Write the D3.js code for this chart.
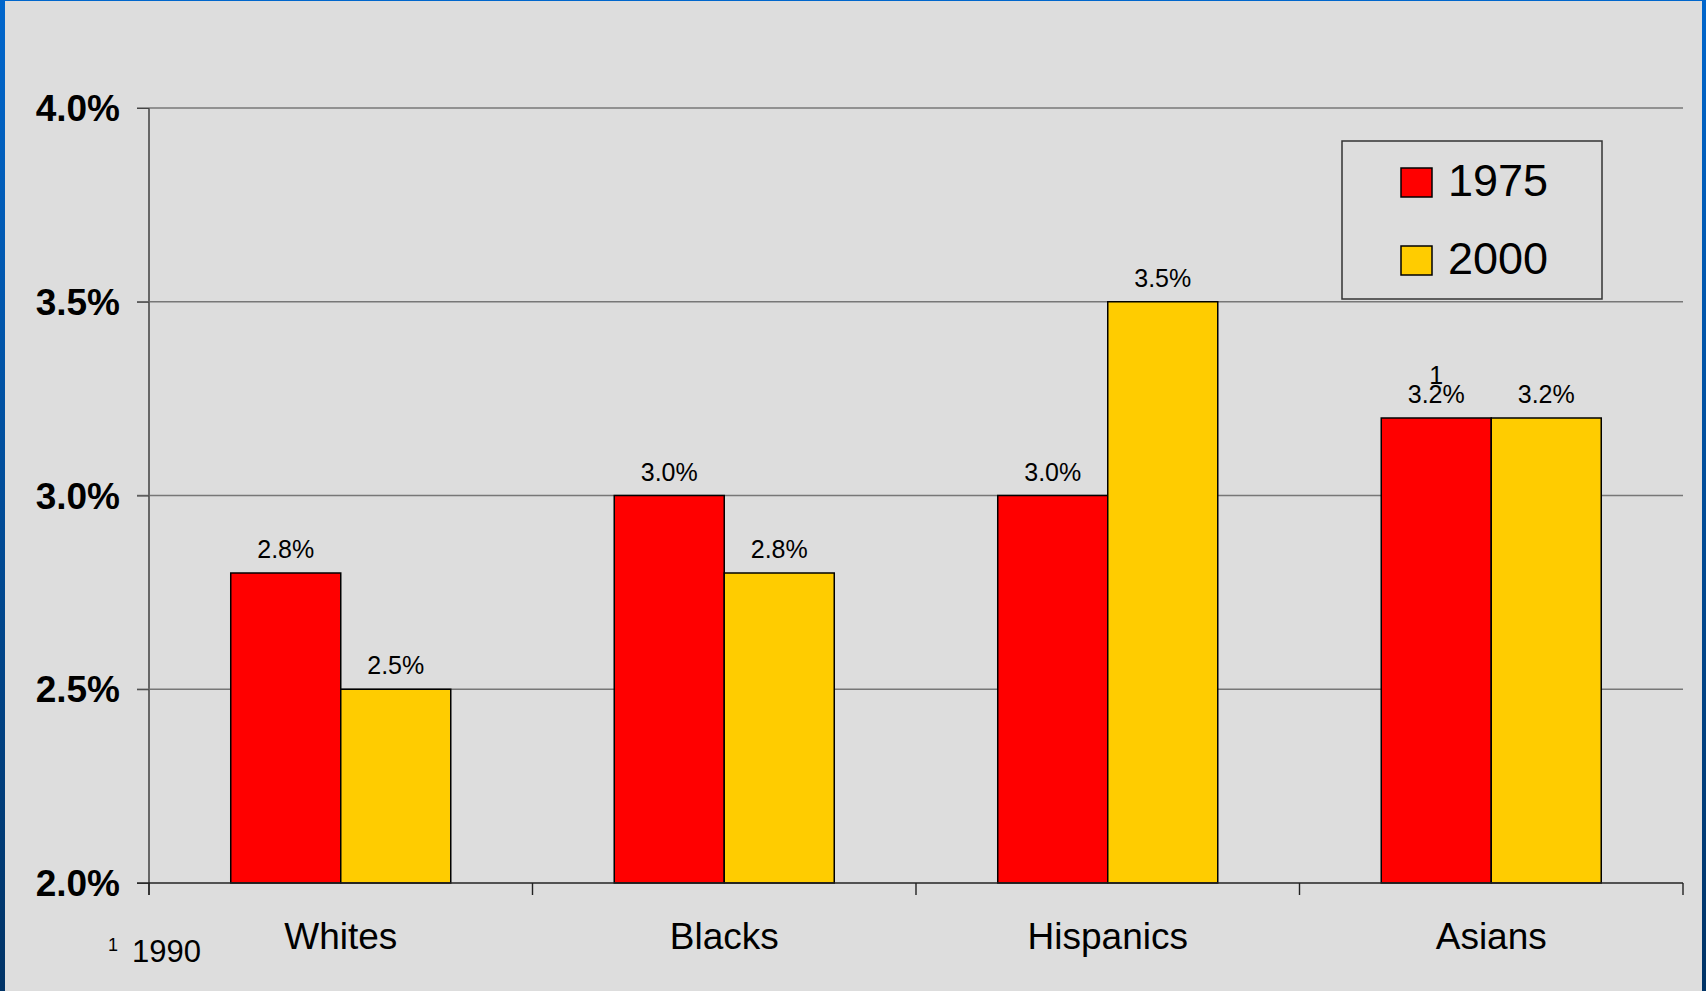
<!DOCTYPE html>
<html><head><meta charset="utf-8">
<script src="https://cdn.jsdelivr.net/npm/d3@7"></script>
<style>html,body{margin:0;padding:0;background:#dddddd;overflow:hidden}</style>
</head><body>
<svg id="c" width="1706" height="991"></svg>
<script>
const categories = ["Whites", "Blacks", "Hispanics", "Asians"];
const seriesNames = ["1975", "2000"];
const values1975 = [2.8, 3.0, 3.0, 3.2];
const values2000 = [2.5, 2.8, 3.5, 3.2];
const yTicks = [2.0, 2.5, 3.0, 3.5, 4.0];
const yTickLabels = ["2.0%", "2.5%", "3.0%", "3.5%", "4.0%"];
const colors = ["#ff0000", "#ffcc00"];
const footnoteCategory = "Asians";
const footnoteMark = "1";
const footnoteText = "1990";

const FONT = "'Liberation Sans', Arial, sans-serif";
const svg = d3.select("#c");

// frame
const defs = svg.append("defs");
const g1 = defs.append("linearGradient").attr("id","bg").attr("x1",0).attr("y1",0).attr("x2",0).attr("y2",1);
g1.append("stop").attr("offset","0%").attr("stop-color","#0066cc");
g1.append("stop").attr("offset","100%").attr("stop-color","#003366");
svg.append("rect").attr("width",1706).attr("height",991).attr("fill","url(#bg)");
svg.append("rect").attr("x",5).attr("y",1).attr("width",1697).attr("height",990).attr("fill","#dddddd");

const L = 149, R = 1683, T = 108, B = 883;
const y = d3.scaleLinear().domain([2.0, 4.0]).range([B, T]);
const x0 = d3.scaleBand().domain(categories).range([L, R]).paddingInner(0.4263).paddingOuter(0.21315);
const x1 = d3.scaleBand().domain(seriesNames).range([0, x0.bandwidth()]);

// gridlines
svg.append("g").selectAll("line").data(yTicks.slice(1)).join("line")
  .attr("x1", L - 12).attr("x2", R).attr("y1", d => y(d)).attr("y2", d => y(d))
  .attr("stroke", "#777").attr("stroke-width", 1.6);

// y axis
const yAxis = d3.axisLeft(y).tickValues(yTicks).tickSize(12).tickPadding(17)
  .tickFormat((d,i) => yTickLabels[i]);
const ya = svg.append("g").attr("transform", `translate(${L},0)`).call(yAxis);
ya.select(".domain").attr("stroke", "#666").attr("stroke-width", 2).attr("d", `M0,${T}V${B+12}`);
ya.selectAll(".tick line").attr("stroke", "#444");
ya.selectAll(".tick text").attr("font-family", FONT).attr("font-size", 37).attr("font-weight", "bold").attr("fill", "#000").attr("dy", "0.34em");

// bars
const data = categories.map((c,i) => ({c, v: [values1975[i], values2000[i]]}));
const groups = svg.append("g").selectAll("g").data(data).join("g")
  .attr("transform", d => `translate(${x0(d.c)},0)`);
groups.selectAll("rect").data(d => d.v.map((v,j) => ({v, s: seriesNames[j], j}))).join("rect")
  .attr("x", d => x1(d.s)).attr("width", x1.bandwidth())
  .attr("y", d => y(d.v)).attr("height", d => y(2.0) - y(d.v))
  .attr("fill", d => colors[d.j]).attr("stroke", "#000").attr("stroke-width", 1.5);
groups.selectAll("text.lbl").data(d => d.v.map((v,j) => ({v, s: seriesNames[j], j}))).join("text")
  .attr("class","lbl")
  .attr("x", d => x1(d.s) + x1.bandwidth()/2).attr("y", d => y(d.v) - 15)
  .attr("text-anchor", "middle").attr("font-family", FONT).attr("font-size", 25).attr("fill", "#000")
  .text(d => d.v.toFixed(1) + "%");

// footnote mark over Asians 1975 bar
const fi = categories.indexOf(footnoteCategory);
svg.append("text")
  .attr("x", x0(footnoteCategory) + x1(seriesNames[0]) + x1.bandwidth()/2)
  .attr("y", y(values1975[fi]) - 34)
  .attr("text-anchor", "middle").attr("font-family", FONT).attr("font-size", 25).attr("fill", "#000")
  .text(footnoteMark);

// x axis
const xEdges = categories.map(c => x0(c) - x0.step()*x0.paddingOuter()).concat([R]);
svg.append("line").attr("x1", L - 12).attr("x2", R).attr("y1", B).attr("y2", B).attr("stroke", "#222").attr("stroke-width", 1.6);
svg.append("g").selectAll("line").data(xEdges).join("line")
  .attr("x1", d => d).attr("x2", d => d).attr("y1", B).attr("y2", B + 12)
  .attr("stroke", "#222").attr("stroke-width", 1.4);
svg.append("g").selectAll("text").data(categories).join("text")
  .attr("x", d => x0(d) + x0.bandwidth()/2).attr("y", 949)
  .attr("text-anchor", "middle").attr("font-family", FONT).attr("font-size", 37).attr("fill", "#000")
  .text(d => d);

// footnote
svg.append("text").attr("x", 108).attr("y", 951).attr("font-family", FONT).attr("font-size", 18).attr("fill","#000").text(footnoteMark);
svg.append("text").attr("x", 132).attr("y", 962).attr("font-family", FONT).attr("font-size", 31).attr("fill","#000").text(footnoteText);

// legend
const lg = svg.append("g");
lg.append("rect").attr("x", 1342).attr("y", 141).attr("width", 260).attr("height", 158)
  .attr("fill", "none").attr("stroke", "#333").attr("stroke-width", 1.5);
const items = lg.selectAll("g").data(seriesNames).join("g")
  .attr("transform", (d,i) => `translate(1401,${168 + i*78})`);
items.append("rect").attr("width", 31).attr("height", 29)
  .attr("fill", (d,i) => colors[i]).attr("stroke", "#000").attr("stroke-width", 1.5);
items.append("text").attr("x", 47).attr("y", 28).attr("font-family", FONT).attr("font-size", 45).attr("fill", "#000")
  .text(d => d);
</script>
</body></html>
